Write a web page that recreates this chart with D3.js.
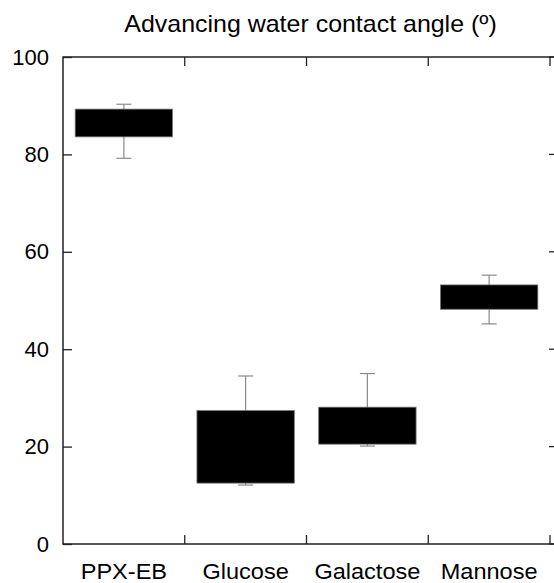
<!DOCTYPE html>
<html>
<head>
<meta charset="utf-8">
<script src="https://cdn.jsdelivr.net/npm/d3@7"></script>
<style>
  html, body { margin: 0; padding: 0; background: #fff; }
  svg { display: block; }
  text { font-family: "Liberation Sans", Arial, sans-serif; fill: #000; }
</style>
</head>
<body>
<svg id="chart" width="554" height="583"></svg>
<script>
// Advancing water contact angle per surface: box spans low..high, whiskers span min..max
const categories = ["PPX-EB", "Glucose", "Galactose", "Mannose"];
const boxLow   = [83.6, 12.5, 20.5, 48.2];
const boxHigh  = [89.3, 27.4, 28.1, 53.2];
const whiskLow = [79.2, 12.1, 20.1, 45.2];
const whiskHigh= [90.3, 34.5, 35.0, 55.2];
const yTicks = [0, 20, 40, 60, 80, 100];
const title = "Advancing water contact angle (º)";

const rows = categories.map((c, i) => ({
  name: c, lo: boxLow[i], hi: boxHigh[i], wlo: whiskLow[i], whi: whiskHigh[i]
}));

const svg = d3.select("#chart");
const plotLeft = 63, plotTop = 57, plotBottom = 544, bandsRight = 550, frameRight = 558;
const axisColor = "#222";
const tickLen = 9;

const x = d3.scaleBand().domain(categories).range([plotLeft, bandsRight]).paddingInner(0.2).paddingOuter(0.1);
const y = d3.scaleLinear().domain([0, 100]).range([plotBottom, plotTop]);

// Whiskers (behind boxes)
const capW = 15;
const wg = svg.append("g").attr("stroke", "#8a8a8a").attr("stroke-width", 1.2);
rows.forEach(d => {
  const cx = x(d.name) + x.bandwidth() / 2;
  wg.append("line").attr("x1", cx).attr("x2", cx).attr("y1", y(d.whi)).attr("y2", y(d.wlo));
  wg.append("line").attr("x1", cx - capW / 2).attr("x2", cx + capW / 2).attr("y1", y(d.whi)).attr("y2", y(d.whi));
  wg.append("line").attr("x1", cx - capW / 2).attr("x2", cx + capW / 2).attr("y1", y(d.wlo)).attr("y2", y(d.wlo));
});

// Boxes
svg.append("g").selectAll("rect").data(rows).join("rect")
  .attr("x", d => x(d.name))
  .attr("width", x.bandwidth())
  .attr("y", d => y(d.hi))
  .attr("height", d => y(d.lo) - y(d.hi))
  .attr("fill", "#000")
  .attr("stroke", "#777")
  .attr("stroke-width", 0.8);

// Frame
const frame = svg.append("g").attr("stroke", axisColor).attr("stroke-width", 1.5).attr("fill", "none");
frame.append("path").attr("d", `M${frameRight},${plotTop}H${plotLeft}V${plotBottom}H${frameRight}V${plotTop}`);

// Category boundary ticks on bottom and top, pointing inward
const bounds = d3.range(1, categories.length + 1).map(i => plotLeft + (bandsRight - plotLeft) * i / categories.length);
const tg = svg.append("g").attr("stroke", axisColor).attr("stroke-width", 1.3);
bounds.forEach(bx => {
  tg.append("line").attr("x1", bx).attr("x2", bx).attr("y1", plotBottom).attr("y2", plotBottom - tickLen);
  tg.append("line").attr("x1", bx).attr("x2", bx).attr("y1", plotTop).attr("y2", plotTop + tickLen);
});

// Left axis with inward ticks and labels
const yAxis = d3.axisLeft(y).tickValues(yTicks).tickSizeInner(-tickLen).tickSizeOuter(0).tickPadding(14);
const ya = svg.append("g").attr("transform", `translate(${plotLeft},0)`).call(yAxis);
ya.select(".domain").remove();
ya.selectAll(".tick line").attr("stroke", axisColor).attr("stroke-width", 1.3);
ya.selectAll(".tick text").attr("font-size", 22).attr("font-family", "Liberation Sans, Arial, sans-serif").attr("fill", "#000");

// Right axis ticks (inward)
yTicks.forEach(v => {
  tg.append("line").attr("x1", frameRight).attr("x2", frameRight - tickLen).attr("y1", y(v)).attr("y2", y(v));
});

// Category labels (slightly wide-set)
svg.append("g").selectAll("text").data(categories).join("text")
  .attr("transform", d => `translate(${x(d) + x.bandwidth() / 2},579) scale(1.07,1)`)
  .attr("text-anchor", "middle")
  .attr("font-size", 22)
  .text(d => d);

// Title
svg.append("text")
  .attr("transform", `translate(${(plotLeft + frameRight) / 2},32) scale(1.04,1)`)
  .attr("text-anchor", "middle")
  .attr("font-size", 24)
  .text(title);
</script>
</body>
</html>
